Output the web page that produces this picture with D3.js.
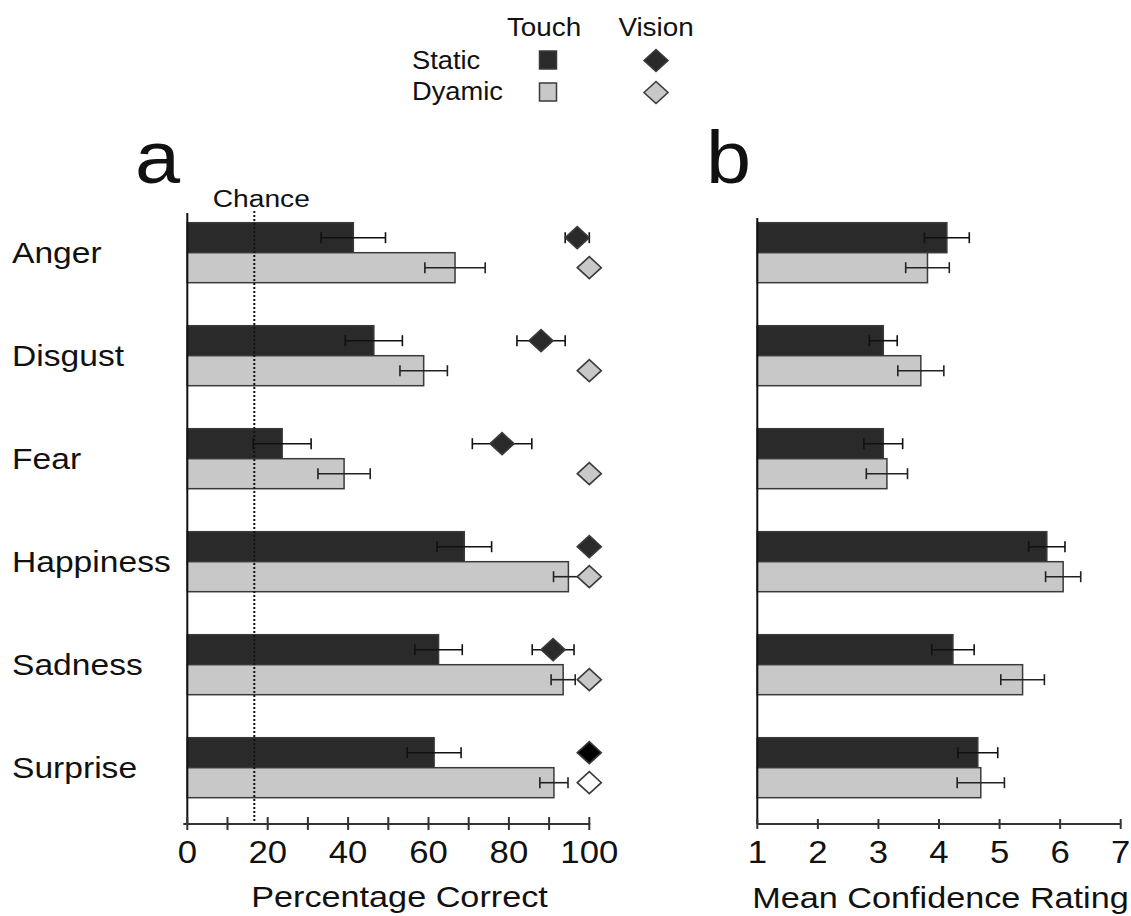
<!DOCTYPE html>
<html>
<head>
<meta charset="utf-8">
<script src="https://cdn.jsdelivr.net/npm/d3@7"></script>
<style>
  html, body { margin: 0; padding: 0; background: #fff; }
  svg { display: block; }
  text { font-family: "Liberation Sans", Arial, sans-serif; fill: #111; }
</style>
</head>
<body>
<svg id="chart" width="1131" height="916"></svg>
<script>
// ---------------- data ----------------
const categories = ["Anger", "Disgust", "Fear", "Happiness", "Sadness", "Surprise"];

// Panel a: percentage correct
const touchStatic      = [41.3, 46.4, 23.6, 68.9, 62.5, 61.4];
const touchStaticErr   = [8.0, 7.1, 7.2, 6.8, 5.9, 6.7];
const touchDynamic     = [66.6, 58.8, 39.0, 94.8, 93.5, 91.2];
const touchDynamicErr  = [7.5, 5.9, 6.5, 3.7, 3.0, 3.5];
const visionStatic     = [97.0, 88.0, 78.3, 100, 91.0, 100];
const visionStaticErr  = [3.0, 6.0, 7.4, 0, 5.2, 0];
const visionDynamic    = [100, 100, 100, 100, 100, 100];
const chanceLevel = 100 / 6;

// Panel b: mean confidence rating
const confStatic       = [4.13, 3.08, 3.08, 5.78, 4.23, 4.64];
const confStaticErr    = [0.37, 0.23, 0.32, 0.30, 0.35, 0.33];
const confDynamic      = [3.81, 3.70, 3.14, 6.05, 5.38, 4.69];
const confDynamicErr   = [0.36, 0.38, 0.34, 0.29, 0.36, 0.39];

const ticksA = [0, 10, 20, 30, 40, 50, 60, 70, 80, 90, 100];
const tickLabelsA = [0, 20, 40, 60, 80, 100];
const ticksB = [1, 2, 3, 4, 5, 6, 7];

// ---------------- styles ----------------
const DARK = "#2a2a2a", LIGHT = "#c8c8c8", EDGE = "#3a3a3a", INK = "#111";

const svg = d3.select("#chart");

function txt(x, y, s, size, anchor, sx) {
  return svg.append("text")
    .attr("transform", `translate(${x},${y}) scale(${sx},1)`)
    .attr("text-anchor", anchor)
    .style("font-size", size + "px")
    .text(s);
}

// ---------------- scales ----------------
const yBand = d3.scaleBand().domain(categories)
  .range([201.2, 819.2]).paddingInner(43 / 103).paddingOuter(21.5 / 103);
const ySub = d3.scaleBand().domain(["static", "dynamic"]).range([0, yBand.bandwidth()]);

const xA = d3.scaleLinear().domain([0, 100]).range([187.3, 589.3]);
const xB = d3.scaleLinear().domain([1, 7]).range([757.3, 1120.7]);

const rows = categories.map((c, i) => ({
  cat: c, i,
  ts: touchStatic[i], tse: touchStaticErr[i],
  td: touchDynamic[i], tde: touchDynamicErr[i],
  vs: visionStatic[i], vse: visionStaticErr[i],
  vd: visionDynamic[i],
  cs: confStatic[i], cse: confStaticErr[i],
  cd: confDynamic[i], cde: confDynamicErr[i]
}));

function errBar(g, x, lo, hi, y, color) {
  g.append("line").attr("x1", x(lo)).attr("x2", x(hi)).attr("y1", y).attr("y2", y)
    .attr("stroke", color).attr("stroke-width", 1.6);
  [lo, hi].forEach(v => g.append("line").attr("x1", x(v)).attr("x2", x(v))
    .attr("y1", y - 5.5).attr("y2", y + 5.5).attr("stroke", color).attr("stroke-width", 1.6));
}

function diamond(g, cx, cy, fill) {
  const w = 12, h = 11;
  g.append("path")
    .attr("d", `M${cx - w},${cy}L${cx},${cy - h}L${cx + w},${cy}L${cx},${cy + h}Z`)
    .attr("fill", fill).attr("stroke", EDGE).attr("stroke-width", 1.6);
}

// ---------------- panel a ----------------
const gA = svg.append("g");

// bars
rows.forEach(r => {
  const y0 = yBand(r.cat);
  gA.append("rect").attr("x", xA(0)).attr("y", y0 + ySub("static"))
    .attr("width", xA(r.ts) - xA(0)).attr("height", ySub.bandwidth())
    .attr("fill", DARK).attr("stroke", EDGE).attr("stroke-width", 1.5);
  gA.append("rect").attr("x", xA(0)).attr("y", y0 + ySub("dynamic"))
    .attr("width", xA(r.td) - xA(0)).attr("height", ySub.bandwidth())
    .attr("fill", LIGHT).attr("stroke", EDGE).attr("stroke-width", 1.5);
});

// chance line
gA.append("line").attr("x1", xA(chanceLevel)).attr("x2", xA(chanceLevel))
  .attr("y1", 211).attr("y2", 824)
  .attr("stroke", INK).attr("stroke-width", 2).attr("stroke-dasharray", "2,2");

// error bars touch
rows.forEach(r => {
  const y0 = yBand(r.cat);
  errBar(gA, xA, r.ts - r.tse, r.ts + r.tse, y0 + ySub("static") + ySub.bandwidth() / 2, "#111");
  errBar(gA, xA, r.td - r.tde, r.td + r.tde, y0 + ySub("dynamic") + ySub.bandwidth() / 2, "#222");
});

// vision markers
rows.forEach(r => {
  const y0 = yBand(r.cat);
  const ys = y0 + ySub("static") + ySub.bandwidth() / 2;
  const yd = y0 + ySub("dynamic") + ySub.bandwidth() / 2;
  if (r.vse > 0) errBar(gA, xA, r.vs - r.vse, Math.min(100, r.vs + r.vse), ys, "#111");
  const open = r.cat === "Surprise";
  diamond(gA, xA(r.vs), ys, open ? "#000" : DARK);
  diamond(gA, xA(r.vd), yd, open ? "#fff" : LIGHT);
});

// axes a
gA.append("line").attr("x1", xA(0)).attr("x2", xA(0)).attr("y1", 213).attr("y2", 824)
  .attr("stroke", INK).attr("stroke-width", 2);
gA.append("line").attr("x1", xA(0) - 4).attr("x2", xA(100) + 1).attr("y1", 824).attr("y2", 824)
  .attr("stroke", "#333").attr("stroke-width", 2);
ticksA.forEach(t => gA.append("line").attr("x1", xA(t)).attr("x2", xA(t))
  .attr("y1", 817).attr("y2", 830).attr("stroke", "#333").attr("stroke-width", 2));
tickLabelsA.forEach(t => txt(xA(t), 863, String(t), 31, "middle", 1.12));
txt(399.5, 907, "Percentage Correct", 29.5, "middle", 1.16);
txt(xA(chanceLevel) + 7, 207, "Chance", 24.5, "middle", 1.15);
txt(135, 183, "a", 75, "start", 1.08);

// category labels
rows.forEach(r => {
  txt(12, yBand(r.cat) + yBand.bandwidth() / 2 + 10, r.cat, 30, "start", 1.12);
});

// ---------------- panel b ----------------
const gB = svg.append("g");
rows.forEach(r => {
  const y0 = yBand(r.cat);
  gB.append("rect").attr("x", xB(1)).attr("y", y0 + ySub("static"))
    .attr("width", xB(r.cs) - xB(1)).attr("height", ySub.bandwidth())
    .attr("fill", DARK).attr("stroke", EDGE).attr("stroke-width", 1.5);
  gB.append("rect").attr("x", xB(1)).attr("y", y0 + ySub("dynamic"))
    .attr("width", xB(r.cd) - xB(1)).attr("height", ySub.bandwidth())
    .attr("fill", LIGHT).attr("stroke", EDGE).attr("stroke-width", 1.5);
});
rows.forEach(r => {
  const y0 = yBand(r.cat);
  errBar(gB, xB, r.cs - r.cse, r.cs + r.cse, y0 + ySub("static") + ySub.bandwidth() / 2, "#111");
  errBar(gB, xB, r.cd - r.cde, r.cd + r.cde, y0 + ySub("dynamic") + ySub.bandwidth() / 2, "#222");
});
gB.append("line").attr("x1", xB(1)).attr("x2", xB(1)).attr("y1", 218).attr("y2", 824)
  .attr("stroke", INK).attr("stroke-width", 2);
gB.append("line").attr("x1", xB(1)).attr("x2", xB(7)).attr("y1", 824).attr("y2", 824)
  .attr("stroke", "#333").attr("stroke-width", 2);
ticksB.forEach(t => gB.append("line").attr("x1", xB(t)).attr("x2", xB(t))
  .attr("y1", 819).attr("y2", 829).attr("stroke", "#333").attr("stroke-width", 2));
ticksB.forEach(t => txt(xB(t), 863, String(t), 31, "middle", 1.12));
txt(940.5, 908, "Mean Confidence Rating", 29.5, "middle", 1.16);
txt(706, 183, "b", 75, "start", 1.08);

// ---------------- legend ----------------
txt(544, 36, "Touch", 26.5, "middle", 1.05);
txt(656, 36, "Vision", 26.5, "middle", 1.05);
txt(412, 69, "Static", 26.5, "start", 1.03);
txt(412, 100, "Dyamic", 26.5, "start", 1.03);
svg.append("rect").attr("x", 539.5).attr("y", 51).attr("width", 17).attr("height", 18)
  .attr("fill", DARK).attr("stroke", EDGE).attr("stroke-width", 1.5);
svg.append("rect").attr("x", 539.5).attr("y", 83).attr("width", 17).attr("height", 18)
  .attr("fill", LIGHT).attr("stroke", EDGE).attr("stroke-width", 1.5);
diamond(svg, 656, 60.5, DARK);
diamond(svg, 656, 92.5, LIGHT);
</script>
</body>
</html>
